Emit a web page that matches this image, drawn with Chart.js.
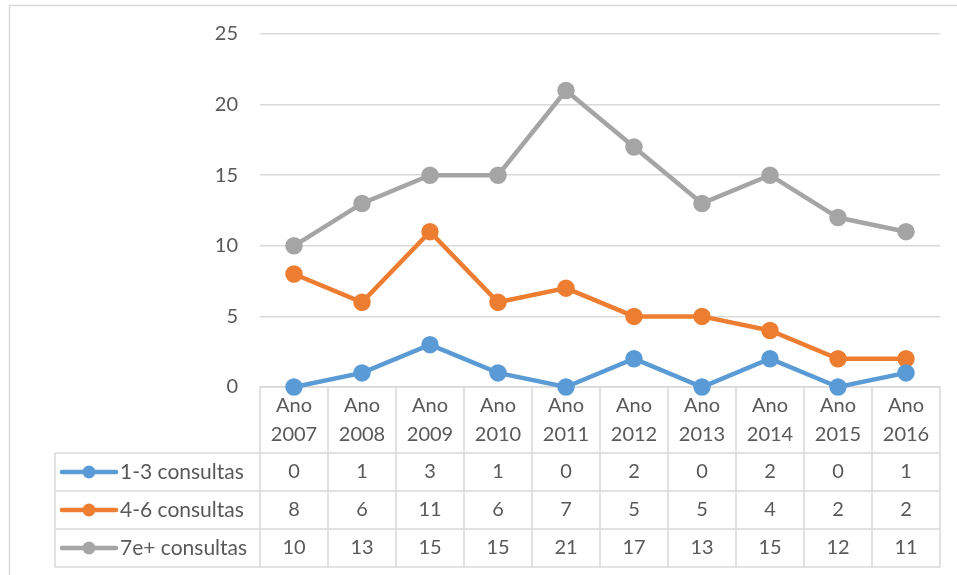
<!DOCTYPE html>
<html>
<head>
<meta charset="utf-8">
<script src="https://cdn.jsdelivr.net/npm/chart.js@4/dist/chart.umd.min.js"></script>
<style>
  html, body { margin: 0; padding: 0; background: #fff; }
  #wrap { width: 957px; height: 575px; position: relative; }
</style>
</head>
<body>
<div id="wrap"><canvas id="c" width="957" height="575"></canvas></div>
<script>
const categories = ["Ano 2007","Ano 2008","Ano 2009","Ano 2010","Ano 2011","Ano 2012","Ano 2013","Ano 2014","Ano 2015","Ano 2016"];
const seriesNames = ["1-3 consultas","4-6 consultas","7e+ consultas"];
const consultas13 = [0,1,3,1,0,2,0,2,0,1];
const consultas46 = [8,6,11,6,7,5,5,4,2,2];
const consultas7 = [10,13,15,15,21,17,13,15,12,11];
const yTicks = [0,5,10,15,20,25];

const colors = ["#5B9BD5","#ED7D31","#A5A5A5"];
const FONT = "Lato, 'Open Sans', sans-serif";
const TEXT = "#595959";
const GRID = "#D9D9D9";

const tablePlugin = {
  id: 'tablePlugin',
  beforeDraw(chart) {
    const ctx = chart.ctx;
    ctx.save();
    ctx.fillStyle = '#fff';
    ctx.fillRect(0, 0, chart.width, chart.height);
    ctx.strokeStyle = GRID;
    ctx.lineWidth = 1.5;
    ctx.beginPath();
    ctx.moveTo(9.5, chart.height + 2);
    ctx.lineTo(9.5, 5.5);
    ctx.lineTo(chart.width + 2, 5.5);
    ctx.stroke();
    ctx.restore();
  },
  beforeDatasetsDraw(chart) {
    const ctx = chart.ctx;
    const xs = chart.scales.x;
    const area = chart.chartArea;
    const n = categories.length;
    const half = (xs.getPixelForValue(1) - xs.getPixelForValue(0)) / 2;
    const top = area.bottom;
    const rows = [top, 453, 491, 529, 567];
    const legendLeft = 55;
    const tableLeft = area.left;
    const tableRight = area.right;
    ctx.save();
    ctx.strokeStyle = GRID;
    ctx.lineWidth = 1.5;
    ctx.beginPath();
    ctx.moveTo(tableLeft, rows[0]); ctx.lineTo(tableRight, rows[0]);
    for (let r = 1; r < rows.length; r++) {
      ctx.moveTo(legendLeft, rows[r]); ctx.lineTo(tableRight, rows[r]);
    }
    ctx.moveTo(legendLeft, rows[1]); ctx.lineTo(legendLeft, rows[4]);
    for (let i = 0; i <= n; i++) {
      const x = i < n ? xs.getPixelForValue(i) - half : xs.getPixelForValue(n - 1) + half;
      ctx.moveTo(x, rows[0]); ctx.lineTo(x, rows[4]);
    }
    ctx.stroke();

    ctx.fillStyle = TEXT;
    ctx.font = "20px " + FONT;
    ctx.textAlign = 'center';
    ctx.textBaseline = 'middle';
    for (let i = 0; i < n; i++) {
      const cx = xs.getPixelForValue(i);
      const parts = categories[i].split(' ');
      ctx.fillText(parts[0], cx, 406);
      ctx.fillText(parts[1], cx, 435);
    }
    const vals = [consultas13, consultas46, consultas7];
    for (let s = 0; s < 3; s++) {
      const cy = (rows[s + 1] + rows[s + 2]) / 2;
      ctx.font = "20px " + FONT;
      for (let i = 0; i < n; i++) {
        ctx.fillText(String(vals[s][i]), xs.getPixelForValue(i), cy);
      }
      ctx.strokeStyle = colors[s];
      ctx.lineWidth = 4.5;
      ctx.lineCap = 'round';
      ctx.beginPath();
      ctx.moveTo(62, cy); ctx.lineTo(116, cy);
      ctx.stroke();
      ctx.fillStyle = colors[s];
      ctx.beginPath();
      ctx.arc(89, cy, 6.5, 0, Math.PI * 2);
      ctx.fill();
      ctx.fillStyle = TEXT;
      ctx.textAlign = 'left';
      ctx.font = "21px " + FONT;
      ctx.fillText(seriesNames[s], 120, cy);
      ctx.textAlign = 'center';
    }
    ctx.restore();
  }
};

function ds(label, data, color) {
  return {
    label, data,
    borderColor: color, backgroundColor: color,
    pointBackgroundColor: color, pointBorderColor: color,
    borderWidth: 4.5, pointRadius: 6.5, pointHoverRadius: 6.5,
    tension: 0, fill: false, clip: false
  };
}

new Chart(document.getElementById('c'), {
  type: 'line',
  data: {
    labels: categories,
    datasets: [
      ds(seriesNames[0], consultas13, colors[0]),
      ds(seriesNames[1], consultas46, colors[1]),
      ds(seriesNames[2], consultas7, colors[2])
    ]
  },
  options: {
    responsive: false,
    animation: false,
    devicePixelRatio: 1,
    layout: { padding: { left: 0, top: 34, right: 17, bottom: 188 } },
    plugins: { legend: { display: false }, tooltip: { enabled: false } },
    scales: {
      x: { type: 'category', display: false, offset: true },
      y: {
        min: 0, max: 25,
        afterBuildTicks(scale) { scale.ticks = yTicks.map(v => ({ value: v })); },
        afterFit(scale) { scale.width = 260; },
        border: { display: false },
        grid: { color: GRID, lineWidth: 1.5, drawTicks: false },
        ticks: { color: TEXT, font: { family: FONT, size: 20 }, padding: 22 }
      }
    }
  },
  plugins: [tablePlugin]
});
</script>
</body>
</html>
